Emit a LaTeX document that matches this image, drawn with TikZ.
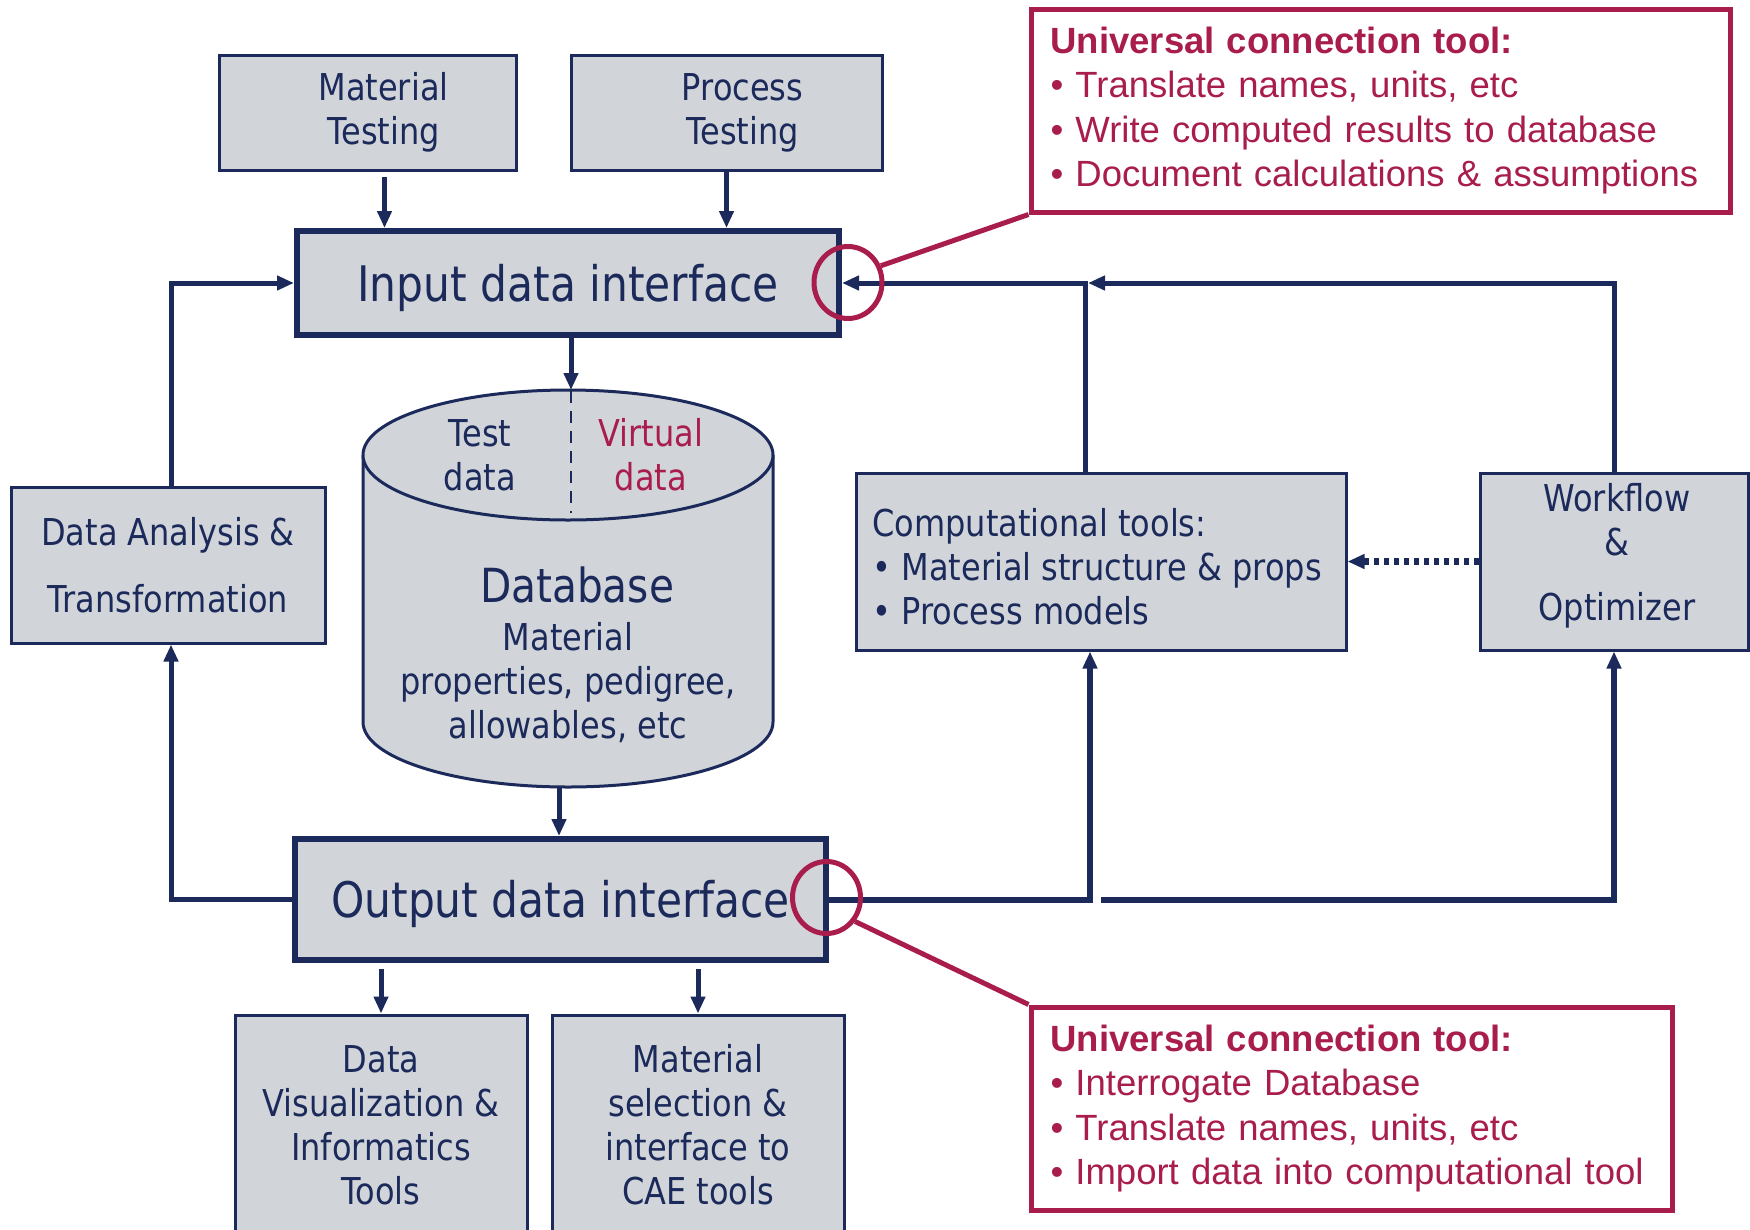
\documentclass[tikz,border=0pt]{standalone}
\usepackage{fontspec}
\setmainfont{DejaVu Sans}[FakeStretch=0.865]
\newfontfamily\calloutfont{Liberation Sans}
\usetikzlibrary{arrows.meta,shapes.geometric}

\definecolor{navy}{HTML}{1B2A5A}
\definecolor{panel}{HTML}{D1D5D9}
\definecolor{crimson}{HTML}{A91D4D}

\newcommand{\bxfont}{\fontsize{37}{44}\selectfont}
\newcommand{\ifacefont}{\fontsize{49}{58}\selectfont}
\newcommand{\notefont}{\calloutfont\fontsize{36.5}{44.5}\selectfont}

\tikzset{every picture/.style={line width=3pt}}
\tikzset{
  box/.style={draw=navy, fill=panel, line width=3pt, text=navy, font=\bxfont, align=center, inner sep=0pt},
  iface/.style={box, line width=6pt, font=\ifacefont, text height=36pt, text depth=0pt},
  boxtext/.style={text=navy, font=\bxfont, align=center, inner sep=0pt},
  conn/.style={draw=navy, line width=5pt, -{Triangle[length=17pt,width=14pt]}},
  ring/.style={draw=crimson, line width=5pt, ellipse, minimum width=68pt, minimum height=72pt, inner sep=0pt},
  note/.style={draw=crimson, line width=5pt, fill=white, text=crimson, font=\notefont, align=left, inner xsep=19.5pt, inner ysep=0pt, minimum height=203pt},
  callout/.style={draw=crimson, line width=5pt},
}

\begin{document}
\begin{tikzpicture}[x=1pt,y=1pt,yscale=-1,xscale=1]
	\useasboundingbox (0,0) rectangle (1750,1229);
	\clip (0,0) rectangle (1750,1229);

	%Shape: Rectangle [testing boxes]
	\node[box, minimum width=297pt, minimum height=115pt] (mattest) at (367.5,112.5) {\hspace*{32pt}Material\\\hspace*{32pt}Testing};
	\node[box, minimum width=311pt, minimum height=115pt] (proctest) at (726.5,112.5) {\hspace*{32pt}Process\\\hspace*{32pt}Testing};
	%Shape: Rectangle [interfaces]
	\node[iface, minimum width=542pt, minimum height=104pt] (input) at (568,283) {Input data interface};
	\node[iface, minimum width=531pt, minimum height=121pt] (output) at (560.5,899.5) {Output data interface};
	%Shape: Rectangle [side boxes]
	\node[box, minimum width=314pt, minimum height=156pt] (dataan) at (168,565) {Data Analysis \&\\[23pt]Transformation};
	\node[box, minimum width=490pt, minimum height=177pt] (comp) at (1101,561.5) {};
	\node[boxtext, anchor=west, align=left] (comptxt) at (871,567) {Computational tools:\\• Material structure \& props\\• Process models};
	\node[box, minimum width=268pt, minimum height=177pt] (wf) at (1614,561.5) {};
	\node[boxtext] (wftxt) at (1617,556) {Workflow\\\&\\[21pt]Optimizer};
	%Shape: Rectangle [bottom boxes]
	\node[box, minimum width=292pt, minimum height=220pt] (dataviz) at (381,1125) {Data\\Visualization \&\\Informatics\\Tools};
	\node[box, minimum width=292pt, minimum height=220pt] (matsel) at (698,1125) {Material\\selection \&\\interface to\\CAE tools};

	%Shape: Can [database]
	\draw[navy, line width=3pt, fill=panel] (363,455) -- (363,722) arc[start angle=180, end angle=0, x radius=205, y radius=65] -- (773,455) ;
	\draw[navy, line width=3pt, fill=panel] (568,455) ellipse [x radius=205, y radius=65] ;
	\draw[navy, line width=1.5pt, dash pattern=on 12pt off 8pt] (571,391) -- (571,513) ;
	\coordinate (dbtop) at (571,390);
	\coordinate (dbbot) at (559,787);
	% Text Node
	\node[boxtext] (testlab) at (480,455) {Test\\data};
	\node[boxtext, text=crimson] (virtlab) at (651,455) {Virtual\\data};
	\node[boxtext, font=\fontsize{47}{56}\selectfont] (dbtitle) at (577,585) {Database};
	\node[boxtext] (dbbody) at (568,683) {Material\\properties, pedigree,\\allowables, etc};

	%Straight Lines [into input]
	\coordinate (mtout) at ([xshift=17pt]mattest.south);
	\draw[conn, shorten <=5pt] (mtout) -- (mtout |- input.north) ;
	\draw[conn] (proctest.south) -- (proctest.south |- input.north) ;
	\draw[conn] (input.south -| dbtop) -- (dbtop) ;
	\draw[conn] (dbbot) -- (dbbot |- output.north) ;
	%Straight Lines [left loop]
	\coordinate (dabot) at ([xshift=3pt]dataan.south);
	\coordinate (datop) at ([xshift=3pt]dataan.north);
	\draw[conn] (output.west) -| (dabot) ;
	\draw[conn] (datop) |- (input.west) ;
	%Straight Lines [right loop]
	\coordinate (cptop) at ([xshift=-16pt]comp.north);
	\coordinate (cpbot) at ([xshift=-11pt]comp.south);
	\coordinate (join) at (cptop |- input.east);
	\coordinate (split) at (1101,899.5);
	\draw[conn] (cptop) |- (input.east) ;
	\draw[conn] (wf.north) |- ([xshift=3pt]join) ;
	\draw[conn, line width=6pt] (output.east) -| (cpbot) ;
	\draw[conn, line width=6pt] (split) -| (wf.south) ;
	\draw[conn, line width=7pt, dash pattern=on 5pt off 5pt] (wf.west) -- (comp.east) ;
	%Straight Lines [out of output]
	\draw[conn, shorten <=6pt] (dataviz.north |- output.south) -- (dataviz.north) ;
	\draw[conn, shorten <=6pt] (matsel.north |- output.south) -- (matsel.north) ;

	%Shape: Ellipse [connection rings]
	\node[ring] (ring1) at (848,282.5) {};
	\node[ring] (ring2) at (826.5,897.5) {};

	% Text Node [callouts]
	\node[note, text width=660pt] (note1) at (1380.5,110.5) {\textbf{Universal connection tool:}\\• Translate names, units, etc\\• Write computed results to database\\• Document calculations \& assumptions};
	\node[note, text width=602pt] (note2) at (1351.5,1108.5) {\textbf{Universal connection tool:}\\• Interrogate Database\\• Translate names, units, etc\\• Import data into computational tool};
	\draw[callout] (ring1.27) -- (note1.south west) ;
	\draw[callout] (ring2.-40) -- (note2.north west) ;

\end{tikzpicture}
\end{document}
